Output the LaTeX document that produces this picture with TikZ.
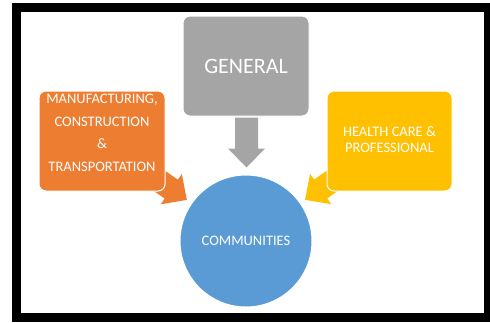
\documentclass[tikz,border=0pt]{standalone}
\usepackage{fontspec}
\setmainfont{Carlito}
\usetikzlibrary{calc}
\pgfdeclarelayer{back}
\pgfdeclarelayer{background}
\pgfsetlayers{back,background,main}
\definecolor{gengray}{HTML}{A5A5A5}
\definecolor{mfgorange}{HTML}{ED7D31}
\definecolor{hcyellow}{HTML}{FFC000}
\definecolor{comblue}{HTML}{5B9BD5}
\newcommand\myblockarrow[3]{%
  \fill[#3]
    ($(#1)!11.5pt!90:(#2)$) --
    ($($(#2)!19pt!(#1)$)!11.5pt!-90:(#1)$) --
    ($($(#2)!19pt!(#1)$)!18.5pt!-90:(#1)$) --
    (#2) --
    ($($(#2)!19pt!(#1)$)!18.5pt!90:(#1)$) --
    ($($(#2)!19pt!(#1)$)!11.5pt!90:(#1)$) --
    ($(#1)!11.5pt!-90:(#2)$) -- cycle;}
\begin{document}
\begin{tikzpicture}[x=1pt,y=-1pt,
  box/.style={rounded corners=7pt, draw=white, line width=1pt, inner sep=0pt,
    text=white, minimum width=126pt, minimum height=100pt, align=center},
  btext/.style={text=white, align=center, inner sep=0pt},
  circ/.style={circle, fill=comblue, draw=white, line width=1pt, inner sep=0pt,
    minimum size=132pt, text=white}]
\useasboundingbox (0,0) rectangle (490,322);
\begin{pgfonlayer}{back}
\fill[white] (0,0) rectangle (490,322);
\draw[line width=9pt] (16.5,7.5) rectangle (488.5,317.5);
\end{pgfonlayer}
\node[box, fill=gengray] (gen) at (246,66) {};
\node[btext, font=\fontsize{22}{26}\selectfont] (gentext) at (gen.center) {GENERAL};
\node[box, fill=mfgorange] (mfg) at (102,141) {};
\node[btext, font=\fontsize{14.5}{22.5}\selectfont] (mfgtext) at ($(mfg.center)+(0,-8)$)
  {MANUFACTURING,\\CONSTRUCTION\\\&\\TRANSPORTATION};
\node[box, fill=hcyellow, minimum width=125pt] (hc) at (389.5,141) {};
\node[btext, font=\fontsize{14.5}{16}\selectfont] (hctext) at ($(hc.center)+(0,-1)$)
  {HEALTH CARE \&\\PROFESSIONAL};
\node[circ, font=\fontsize{14.5}{17}\selectfont] (com) at (246,241) {COMMUNITIES};
\begin{pgfonlayer}{background}
\coordinate (gT) at ($(gen.south)+(0.5,1)$);
\coordinate (gP) at ($(com.north)+(0.5,-7)$);
\coordinate (mP) at ($(com.center)!72pt!(mfg.center)$);
\coordinate (mT) at ($(com.center)!123pt!(mfg.center)$);
\coordinate (hP) at ($(com.center)!72pt!(hc.center)$);
\coordinate (hT) at ($(com.center)!123pt!(hc.center)$);
\myblockarrow{gT}{gP}{gengray}
\myblockarrow{mT}{mP}{mfgorange}
\myblockarrow{hT}{hP}{hcyellow}
\end{pgfonlayer}
\end{tikzpicture}
\end{document}
